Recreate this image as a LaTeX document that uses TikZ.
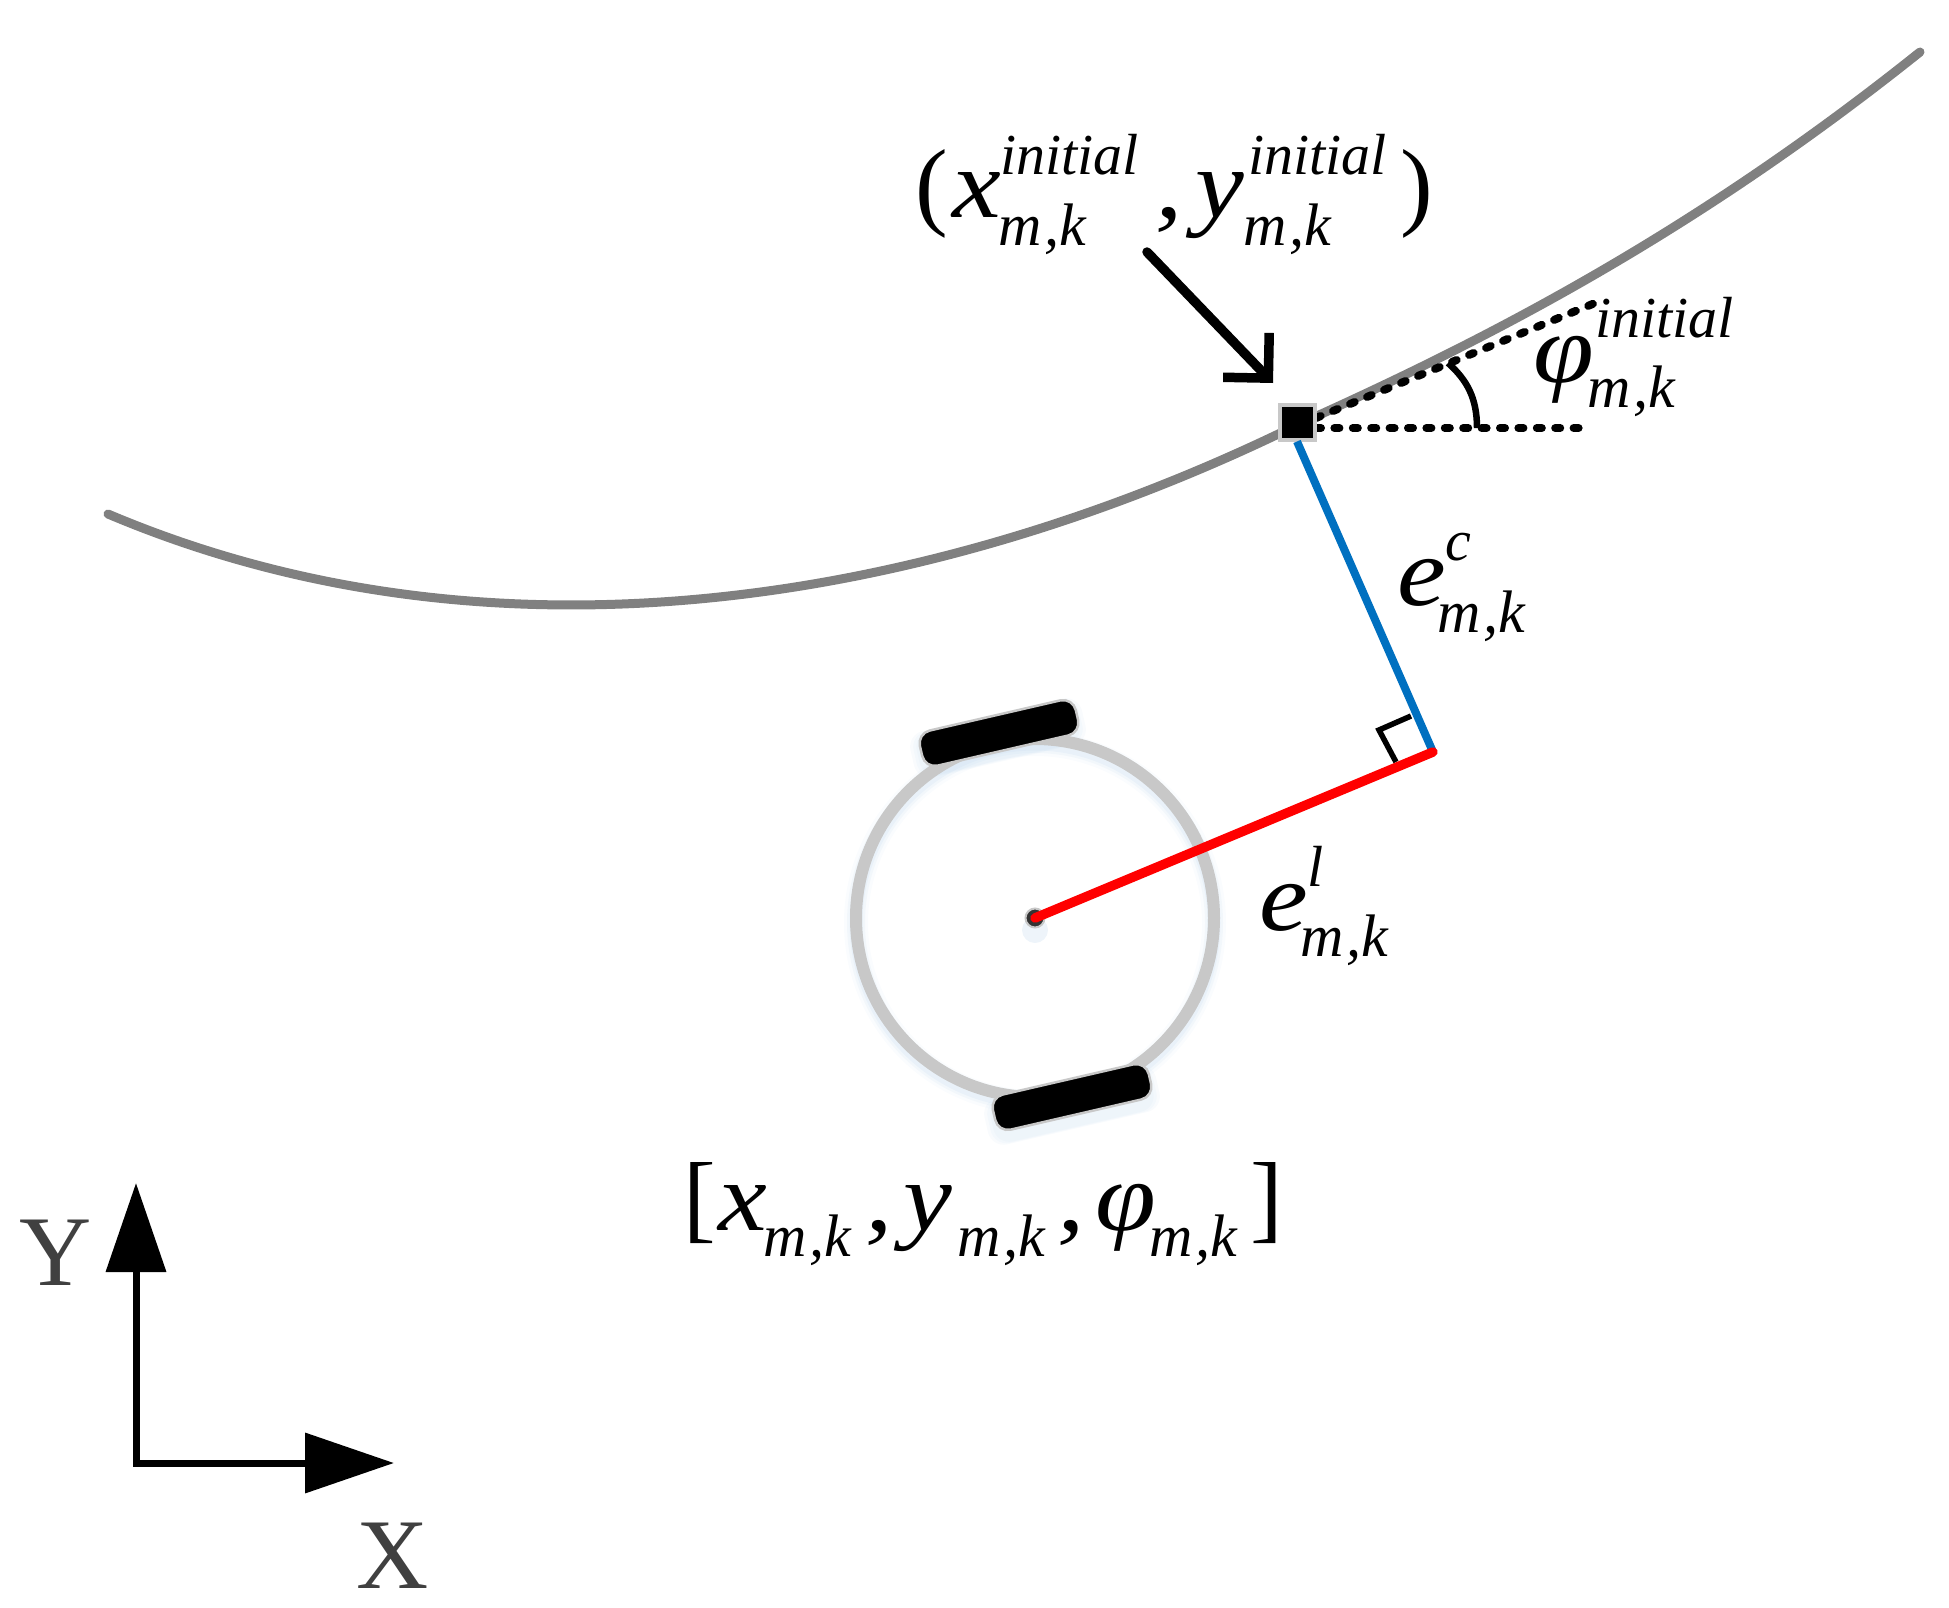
\documentclass[tikz,border=0pt]{standalone}
\usepackage{fontspec}
\setmainfont{Liberation Serif}
\newfontface\bigital{Liberation Serif Italic}[FakeStretch=1.12]
\usetikzlibrary{arrows.meta}
\definecolor{curvegray}{HTML}{808080}
\definecolor{rimgray}{HTML}{C8C8C8}
\definecolor{glowblue}{HTML}{BBD5EC}
\definecolor{axislabel}{HTML}{404040}
\definecolor{bluearm}{HTML}{0070C0}
\newcommand{\mk}{m\kern3pt,k}
\tikzset{
  bigsym/.style={anchor=base west,inner sep=0pt,font=\fontsize{98}{98}\bigital},
  delim/.style={anchor=base west,inner sep=0pt,font=\fontsize{98}{98}\selectfont},
  supsym/.style={anchor=base west,inner sep=0pt,font=\fontsize{58}{58}\selectfont\itshape},
  subsym/.style={anchor=base west,inner sep=0pt,font=\fontsize{60}{60}\selectfont\itshape},
  axlabel/.style={anchor=base,inner sep=0pt,text=axislabel,font=\fontsize{100}{100}\selectfont},
  wheel/.style={draw=rimgray,line width=2.5pt,fill=black,rounded corners=13pt,rotate=13,
    minimum width=160pt,minimum height=36pt,inner sep=0pt},
  wheelglow/.style={fill=glowblue,opacity=.09,rounded corners=16pt,rotate=13,
    minimum width=#1,minimum height=#1*0.27,inner sep=0pt},
  dotline/.style={line width=8pt,line cap=round,dash pattern=on 5pt off 13.4pt},
}
\begin{document}
\begin{tikzpicture}[x=1pt,y=-1pt]
\useasboundingbox (0,0) rectangle (1949,1608);
% named points
\coordinate (c0) at (1035,918);
\coordinate (foot) at (1433,752);
\coordinate (arrS) at (1147,252);
\coordinate (arrE) at (1273,383);
\coordinate (orig) at (136,1463);
\coordinate (ytip) at (136,1183);
\coordinate (xtip) at (394,1463);
\coordinate (hs) at (1316,428);
\coordinate (he) at (1590,428);
\coordinate (ts) at (1316,418);
\coordinate (te) at (1595,303);
\coordinate (ra1) at (1411,716);
\coordinate (ra2) at (1379,730);
\coordinate (ra3) at (1396,762);
\coordinate (ang1) at (1477,428);
\coordinate (ang2) at (1448,363);
% path curve
\draw[curvegray,line width=9pt,line cap=round] (108,514)
  .. controls (500,680) and (940,600) .. (1297,425)
  .. controls (1467,348.5) and (1680,244) .. (1920,52);
% glows
\foreach \w/\o in {24/.08,18/.12,13/.16}{
  \draw[glowblue,line width=\w pt,opacity=\o] ([yshift=-5pt]c0) circle[radius=179];
}
\foreach \s in {176pt,170pt,164pt}{
  \node[wheelglow=\s] at (998,738) {};
  \node[wheelglow=\s] at (1072,1105) {};
}
% robot
\draw[rimgray,line width=12pt] (c0) circle[radius=179];
\node[wheel] (wtop) at (999,733) {};
\node[wheel] (wbot) at (1072,1097) {};
\fill[glowblue,opacity=.25] ([yshift=-12pt]c0) circle[radius=13];
\node[circle,fill=black!80,draw=rimgray,line width=2pt,minimum size=19pt,inner sep=0pt] (ctr) at (c0) {};
% square and lines
\draw[dotline] (hs) -- (he);
\draw[dotline] (ts) -- (te);
\draw[line width=6.5pt] (ang1) .. controls (1477,398) and (1467,380) .. (ang2);
\draw[line width=5.5pt,miter limit=4] (ra1) -- (ra2) -- (ra3);
\node[rectangle,fill=black,draw=rimgray,line width=4pt,minimum size=35pt,inner sep=0pt] (sq) at (1297,422) {};
\draw[bluearm,line width=8pt] (sq.south) -- (foot);
\draw[red,line width=9.5pt,line cap=round] (ctr.center) -- (foot);
% pointer arrow
\draw[line width=9.5pt,line cap=round,-{Straight Barb[length=32pt,width=64pt,line width=9.5pt]}] (arrS) -- (arrE);
% axes
\draw[line width=7pt,{Triangle[length=89pt,width=59pt]}-{Triangle[length=89pt,width=59pt]}] (ytip) -- (orig) -- (xtip);
\node[axlabel] (lY) at (56,1285) {Y};
\node[axlabel] (lX) at (393,1588) {X};
% top formula
\node[delim] (p1) at (915,218) {(};
\node[bigsym] (a1) at (952,218) {x};
\node[supsym] (a2) at (1000,175) {initial};
\node[subsym] (a3) at (998,245) {\mk};
\node[bigsym] (a4) at (1155,218) {,};
\node[bigsym] (a5) at (1195,218) {y};
\node[supsym] (a6) at (1248,175) {initial};
\node[subsym] (a7) at (1243,245) {\mk};
\node[delim] (p2) at (1400,218) {)};
% phi
\node[bigsym] (b1) at (1533,382) {φ};
\node[supsym] (b2) at (1595,337) {initial};
\node[subsym] (b3) at (1587,407) {\mk};
% e c
\node[bigsym] (c1) at (1397,605) {e};
\node[supsym] (c2) at (1445,560) {c};
\node[subsym] (c3) at (1437,632) {\mk};
% e l
\node[bigsym] (d1) at (1259,930) {e};
\node[supsym] (d2) at (1307,886) {l};
\node[subsym] (d3) at (1300,956) {\mk};
% state
\node[delim] (s0) at (683,1230) {[};
\node[bigsym] (s1) at (718,1230) {x};
\node[subsym] (s2) at (763,1256) {\mk};
\node[bigsym] (s3) at (865,1230) {,};
\node[bigsym] (s4) at (903,1230) {y};
\node[subsym] (s5) at (957,1256) {\mk};
\node[bigsym] (s6) at (1057,1230) {,};
\node[bigsym] (s7) at (1095,1230) {φ};
\node[subsym] (s8) at (1149,1256) {\mk};
\node[delim] (s9) at (1250,1230) {]};
\end{tikzpicture}
\end{document}
